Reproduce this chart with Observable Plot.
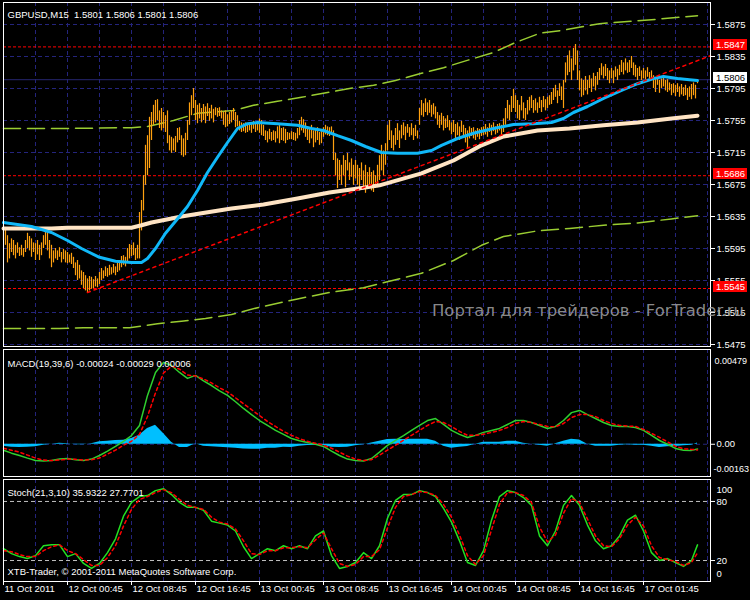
<!DOCTYPE html>
<html><head><meta charset="utf-8">
<script src="https://cdn.jsdelivr.net/npm/d3@7"></script>
<script src="https://cdn.jsdelivr.net/npm/@observablehq/plot@0.6"></script>
<style>
html,body{margin:0;padding:0;background:#000;}
#chart{position:relative;width:750px;height:600px;background:#000;overflow:hidden;}
#chart svg{position:absolute;left:0;}
</style></head><body><div id="chart"></div>
<script>
// ---------- data (prices in pips above 1.5000) ----------
const symbolText = "GBPUSD,M15\u00a0\u00a01.5801 1.5806 1.5801 1.5806";
const macdText = "MACD(19,39,6) -0.00024 -0.00029 0.00006";
const stochText = "Stoch(21,3,10) 35.9322 27.7701";
const copyrightText = "XTB-Trader, © 2001-2011 MetaQuotes Software Corp.";
const watermarkText = "Портал для трейдеров - ForTrader.ru";
const basePrice = 1.5;

const barHigh = [
624,621,611,601,607,605,599,602,596,599,595,605,614,610,607,602,
601,605,599,602,611,617,615,605,599,592,595,592,596,590,594,592,
590,587,589,584,577,580,574,567,565,561,557,560,559,556,560,557,
565,570,567,572,570,574,571,575,572,577,580,585,586,584,595,600,
599,602,595,599,640,655,686,724,736,759,765,774,780,781,767,770,
765,761,767,736,734,732,735,745,746,736,732,739,755,777,786,795,
780,774,776,770,775,772,776,770,774,769,771,770,771,767,765,767,
762,765,767,770,765,761,754,752,751,752,750,752,751,754,751,752,
757,755,749,742,741,744,740,742,741,747,749,745,746,744,740,739,
741,740,739,745,755,759,756,752,747,745,749,742,744,746,740,742,
746,749,747,746,747,742,714,707,705,699,711,705,714,702,707,699,
705,699,695,702,692,699,690,696,690,692,686,699,711,724,717,726,
749,755,742,736,745,751,742,749,752,747,750,746,751,745,749,742,
770,780,776,782,777,780,774,776,772,765,761,764,760,757,761,755,
752,755,750,752,747,754,749,745,742,747,745,746,742,745,744,746,
747,750,746,751,749,752,747,750,751,749,757,770,780,774,785,794,
786,780,774,785,777,770,780,784,786,780,782,777,784,780,785,781,
784,786,790,795,799,792,801,797,805,827,836,842,832,845,850,842,
817,807,805,810,805,811,807,814,810,815,820,826,822,825,820,817,
820,817,822,819,824,830,827,832,827,830,835,827,824,820,822,817,
820,817,821,815,817,811,807,810,805,807,809,805,806,802,800,801,
799,801,797,800,796,799,795,797,800,802,799,806];
const barLow = [
605,599,577,582,590,586,582,589,585,586,584,590,595,592,584,590,
580,587,580,586,595,599,592,582,571,577,582,580,584,577,581,577,
576,577,575,570,561,555,557,549,545,542,539,542,544,545,547,546,
550,555,557,560,559,561,562,564,561,565,567,571,574,572,577,582,
585,586,580,582,582,617,642,674,686,695,730,749,752,755,745,742,
745,740,726,717,714,717,715,727,730,711,709,711,730,749,761,770,
755,751,757,752,755,751,760,754,757,752,761,759,760,757,749,746,
747,750,752,755,746,747,742,740,741,739,740,742,739,744,740,742,
739,736,735,730,727,731,729,730,727,732,726,730,729,726,730,731,
731,730,729,732,736,742,739,734,730,726,732,721,727,730,724,726,
734,737,736,735,737,705,686,670,680,674,686,671,692,680,684,674,
682,674,667,680,670,664,670,674,667,665,670,671,680,692,686,699,
717,730,720,717,724,730,720,732,736,730,739,734,736,730,735,732,
749,761,759,765,761,764,759,762,757,749,745,749,742,745,746,742,
737,740,732,736,730,740,734,727,720,732,735,732,730,734,731,735,
736,737,734,740,736,741,737,739,742,736,740,749,757,755,765,770,
765,757,755,767,757,755,762,767,770,764,767,764,770,765,771,767,
770,774,775,780,784,776,785,780,770,802,811,815,805,817,824,805,
792,784,786,792,787,795,790,797,792,799,805,811,807,810,805,801,
807,801,809,805,811,815,812,817,814,815,820,811,809,805,810,805,
807,806,809,805,807,795,790,799,789,795,797,792,790,792,786,789,
785,790,784,787,785,786,780,784,781,786,782,801];

const fastMaBars = [0,14,24,32,39,48,56,64,69,72,76,81,86,92,97,102,107,112,117,122,127,137,147,154,160,167,174,181,189,197,207,214,219,227,235,245,255,265,274,280,285,292,300,309,317,325,330,337,343,347];
const fastMaVals = [627.5,622.5,615,605,595,584,579,577.5,577.5,582.5,595,614,629,647.5,667.5,690,709,727.5,745,751,752.5,751,749,745,742.5,736,730,722.5,715,714,714,717.5,724,732.5,739,745,750,751,752.5,757.5,765,772.5,782.5,792.5,801,807.5,810,807.5,806,805];
const slowMaBars = [0,24,32,48,64,69,74,81,89,99,114,130,147,163,180,188,209,225,239,250,267,283,300,317,334,347];
const slowMaVals = [620,620,621,621,621,624,627.5,631,635,639,645,650,657.5,665,671,674,689,705,724,735,742.5,745,749,752.5,757.5,761];
const envUpBars = [0,28,64,72,85,97,115,125,137,149,162,173,185,196,209,220,233,245,256,268,279,298,324,347];
const envUpVals = [745,745,746,747.5,755,764,767.5,774,779,784,790,795,799,805,814,821,831,840,852.5,864,867.5,876,881,886];
const envLoBars = [0,28,40,63,77,89,101,114,127,147,163,180,209,225,239,250,267,283,300,317,334,347];
const envLoVals = [495,495,496,496,501,504,507.5,512.5,521,532,540,546,564,580,599,610,617,620,624,627,632,636];
const trendBars = [42, 353.5];
const trendVals = [540, 836];
const levelVals = [847, 686, 545];
const lastClose = 806;
const gridPrices = [475,515,555,595,635,675,715,755,795,835,875];

const timeTickBars = [0,32,64,96,128,160,192,224,256,288,320];
const timeTickLabels = ["11 Oct 2011","12 Oct 00:45","12 Oct 08:45","12 Oct 16:45","13 Oct 00:45","13 Oct 08:45","13 Oct 16:45","14 Oct 00:45","14 Oct 08:45","14 Oct 16:45","17 Oct 01:45"];
const gridBars = [16,32,48,64,80,96,112,128,144,160,176,192,208,224,240,256,272,288,304,320,336,352];

// indicator samples at every 4th bar (0..344) plus the last bar 347
const sampleBars = [0,4,8,12,16,20,24,28,32,36,40,44,48,52,56,60,64,68,72,76,80,84,88,92,96,100,104,108,112,116,120,124,128,132,136,140,144,148,152,156,160,164,168,172,176,180,184,188,192,196,200,204,208,212,216,220,224,228,232,236,240,244,248,252,256,260,264,268,272,276,280,284,288,292,296,300,304,308,312,316,320,324,328,332,336,340,344,347];
// MACD in units of 0.0001
const macdMain = [
-3,-4.5,-5.7,-7,-8.2,-8.5,-8.2,-7.5,
-7.2,-7.8,-8.2,-7.5,-5.7,-3.5,-1.1,1.5,
4.4,9.5,24.7,36.3,41.4,39.8,36.3,33.3,
34.8,32,29.7,27,24.7,21.5,18.1,15,
12,9.5,7,5,2.9,1.8,0.9,0,
-1.1,-3.5,-5.7,-7.5,-8.2,-8.5,-7.2,-4,
-0.6,2,4.4,7,9.5,12,13,10,
7,5,3.4,4.5,6,7,8,10,
12,12,11,9.5,8,9,12,16,
17.1,15,13,11,9.5,9,9,8.5,
7,4.5,1.9,0,-2.1,-3,-3.1,-2.4];
const macdSignal = [
-2,-3,-4,-5.5,-7,-8,-8.2,-8,
-7.5,-7.6,-8,-7.8,-7,-5,-3,-0.5,
1.5,5,14,26,36,39.5,38,35,
34.5,33,31,28.5,26.5,23.5,20.5,17.5,
14.5,11.5,9,6.5,4.5,2.8,1.5,0.5,
-0.5,-2,-4,-6,-7.5,-8.2,-7.8,-5.5,
-3,-0.5,2,4.5,7,9.5,11.5,11,
9,6.5,4.5,4.5,5,6,7,8.5,
10.5,11.5,11,10,9,8.8,10.5,13.5,
15,15,14,12,10.5,9.5,9.2,9,
7.5,5.5,3.5,1.2,-1,-2.3,-2.6,-2.9];
const macdHist = [
-1,-1.5,-1.7,-1.5,-1.2,-0.5,0,0.5,
0.3,-0.2,-0.2,0.3,1.3,1.5,1.9,2,
2.9,4.5,8,9.6,5.4,1,-1.7,-1.7,
0.3,-1,-1.3,-1.5,-1.8,-2,-2.4,-2.5,
-2.5,-2,-2,-1.5,-1.6,-1,-0.6,-0.5,
-0.6,-1.5,-1.7,-1.5,-0.7,-0.3,0.6,1.5,
2.4,2.5,2.4,2.5,2.5,2.5,1.5,-1,
-2,-1.5,-1.1,0,1,1,1,1.5,
1.5,0.5,0,-0.5,-1,0.2,1.5,2.5,
2.1,0,-1,-1,-1,-0.5,-0.2,-0.5,
-0.5,-1,-1.6,-1.2,-1.1,-0.7,-0.5,0.6];
const macdMax = 0.00479, macdMin = -0.00163;
const stochMain = [
32,27,24,22,25,35,36,36,
24,27,17,12,17,28,42,65,
79,85,86,91,93,87,79,74,
74,71,60,58,56,50,34,22,
27,32,30,35,32,35,32,45,
50,25,12,14,18,28,22,35,
63,81,87,87,91,89,85,73,
59,40,18,15,30,61,85,91,
89,84,76,45,35,50,76,86,
76,56,40,32,35,45,61,66,
50,28,20,22,18,14,20,35.9];
const stochSignal = [
30,29,26,24,24,30,34,36,
30,27,21,15,15,23,35,55,
72,82,85,89,92,89,82,76,
74,72,64,59,57,52,40,27,
26,30,30,33,33,34,33,41,
48,32,17,14,16,24,24,31,
53,74,85,87,90,89,86,77,
64,46,25,16,25,51,77,89,
89,86,79,54,39,46,68,83,
79,62,45,35,34,42,56,64,
55,35,23,21,19,15,18,27.8];
const stochLevels = [20, 80];

// ---------- styling ----------
const FONT = "'Liberation Sans', Arial, sans-serif";
const GRID = "#24247c";
const ORANGE = "#ffa010";
const P = v => basePrice + v / 10000;
const M = v => v / 10000;
const N_BARS = 353.5; // bars that fit across the plotting area
const xDomain = [0, N_BARS];
const baseStyle = {background: "transparent", color: "white", fontFamily: FONT, fontSize: "9.5px", overflow: "visible"};

const bars = barHigh.map((h, i) => ({i, hi: P(h), lo: P(barLow[i])}));
const series = (b, v, f) => b.map((x, k) => ({i: x, v: f(v[k])}));

function priceTags(tags) {
  return (index, scales, values, dims) => {
    const g = d3.create("svg:g").attr("font-family", FONT).attr("font-size", 9.5).attr("text-anchor", "start");
    const x0 = dims.width - dims.marginRight + 3;
    for (const t of tags) {
      const y = Math.round(scales.y(P(t.v)));
      g.append("rect").attr("x", x0).attr("y", y - 7).attr("width", 34).attr("height", 11).attr("fill", t.bg);
      g.append("text").attr("x", x0 + 3).attr("y", y - 1.5).attr("dy", "0.35em").attr("fill", t.fg).text(P(t.v).toFixed(4));
    }
    return g.node();
  };
}
function watermark(index, scales, values, dims) {
  const g = d3.create("svg:g").attr("text-anchor", "start");
  g.append("text").attr("x", 432).attr("y", 316).attr("font-family", "'DejaVu Sans', sans-serif").attr("font-size", 15.5)
    .attr("textLength", 312).attr("lengthAdjust", "spacingAndGlyphs")
    .attr("fill", "#9c9c9c").attr("fill-opacity", 0.9).text(watermarkText);
  return g.node();
}

// ---------- main price panel ----------
const main = Plot.plot({
  width: 750, height: 346,
  marginLeft: 3, marginRight: 40, marginTop: 2, marginBottom: 0,
  style: baseStyle,
  x: {domain: xDomain, axis: null},
  y: {domain: [1.54725, 1.59025], axis: "right", ticks: gridPrices.map(P), tickFormat: d => d.toFixed(4), tickSize: 4, tickPadding: 2, label: null},
  marks: [
    Plot.ruleX(gridBars, {stroke: GRID, strokeDasharray: "4,3"}),
    Plot.ruleY(gridPrices.map(P), {stroke: GRID, strokeDasharray: "4,3"}),
    Plot.ruleY([P(lastClose)], {stroke: "#26266e"}),
    Plot.ruleY(levelVals.map(P), {stroke: "#ff0000", strokeDasharray: "3,2"}),
    Plot.line(series(envUpBars, envUpVals, P), {x: "i", y: "v", stroke: "#9acd32", strokeDasharray: "17,7"}),
    Plot.line(series(envLoBars, envLoVals, P), {x: "i", y: "v", stroke: "#9acd32", strokeDasharray: "17,7"}),
    Plot.ruleX(bars, {x: "i", y1: "lo", y2: "hi", stroke: ORANGE, strokeWidth: 1.2}),
    Plot.line(series(slowMaBars, slowMaVals, P), {x: "i", y: "v", stroke: "#ffe4c4", strokeWidth: 4}),
    Plot.line(series(fastMaBars, fastMaVals, P), {x: "i", y: "v", stroke: "#10b8f8", strokeWidth: 3}),
    Plot.line(series(trendBars, trendVals, P), {x: "i", y: "v", stroke: "#ff0000", strokeDasharray: "3,4"}),
    Plot.frame({stroke: "white"}),
    Plot.text([symbolText], {text: d => d, frameAnchor: "top-left", dx: 4, dy: 9, textAnchor: "start", fill: "white"}),
    priceTags([{v: levelVals[0], bg: "#ff0000", fg: "white"}, {v: levelVals[1], bg: "#ff0000", fg: "white"}, {v: levelVals[2], bg: "#ff0000", fg: "white"}, {v: lastClose, bg: "white", fg: "black"}]),
    watermark
  ]
});

// ---------- MACD panel ----------
const macdLine = series(sampleBars, macdMain, M);
const macdSig = series(sampleBars, macdSignal, M);
const macdH = series(sampleBars, macdHist, M);
const macd = Plot.plot({
  width: 750, height: 130,
  marginLeft: 3, marginRight: 40, marginTop: 2, marginBottom: 1,
  style: baseStyle,
  x: {domain: xDomain, axis: null},
  y: {domain: [macdMin, macdMax], axis: "right", ticks: [0], tickFormat: () => "0.00", tickSize: 4, tickPadding: 2, label: null},
  marks: [
    Plot.ruleX(gridBars, {stroke: GRID, strokeDasharray: "4,3"}),
    Plot.ruleY([0], {stroke: GRID, strokeDasharray: "4,3"}),
    Plot.areaY(macdH, {x: "i", y1: 0, y2: "v", fill: "#00bfff"}),
    Plot.line(macdLine, {x: "i", y: "v", stroke: "#2ed02e"}),
    Plot.line(macdSig, {x: "i", y: "v", stroke: "#ff0000", strokeDasharray: "3,3"}),
    Plot.frame({stroke: "white"}),
    Plot.text([macdText], {text: d => d, frameAnchor: "top-left", dx: 4, dy: 11, textAnchor: "start", fill: "white"}),
    Plot.text([macdMax.toFixed(5)], {text: d => d, frameAnchor: "top-right", dx: 4, dy: 8, textAnchor: "start", fill: "white", fontSize: 9}),
    Plot.text([macdMin.toFixed(5)], {text: d => d, frameAnchor: "bottom-right", dx: 3, dy: -5, textAnchor: "start", fill: "white", fontSize: 9})
  ]
});

// ---------- Stochastic panel ----------
const xTicks = timeTickBars.map((b, k) => ({i: b, label: timeTickLabels[k]}));
const stoch = Plot.plot({
  width: 750, height: 122,
  marginLeft: 3, marginRight: 40, marginTop: 1, marginBottom: 19,
  style: baseStyle,
  x: {domain: xDomain, axis: "bottom", ticks: timeTickBars, tickFormat: () => "", tickSize: 4, label: null},
  y: {domain: [-1.3, 102.3], axis: "right", ticks: stochLevels, tickFormat: d => String(d), tickSize: 4, tickPadding: 2, label: null},
  marks: [
    Plot.ruleX(gridBars, {stroke: GRID, strokeDasharray: "4,3"}),
    Plot.ruleY(stochLevels, {stroke: "#c0c0c0", strokeDasharray: "4,3"}),
    Plot.line(series(sampleBars, stochMain, v => v), {x: "i", y: "v", stroke: "#22e022"}),
    Plot.line(series(sampleBars, stochSignal, v => v), {x: "i", y: "v", stroke: "#ff0000", strokeDasharray: "3,3"}),
    Plot.frame({stroke: "white"}),
    Plot.text([stochText], {text: d => d, frameAnchor: "top-left", dx: 4, dy: 10, textAnchor: "start", fill: "white"}),
    Plot.text([copyrightText], {text: d => d, frameAnchor: "bottom-left", dx: 4, dy: -7, textAnchor: "start", fill: "white"}),
    Plot.text(["100"], {text: d => d, frameAnchor: "top-right", dx: 6, dy: 7, textAnchor: "start", fill: "white"}),
    Plot.text(["0"], {text: d => d, frameAnchor: "bottom-right", dx: 6, dy: -5, textAnchor: "start", fill: "white"}),
    Plot.text(xTicks, {x: "i", text: "label", frameAnchor: "bottom", dy: 10, dx: 1, textAnchor: "start", fill: "white"})
  ]
});

const root = document.getElementById("chart");
main.style.top = "0px"; macd.style.top = "347px"; stoch.style.top = "478px";
root.append(main, macd, stoch);
</script></body></html>
